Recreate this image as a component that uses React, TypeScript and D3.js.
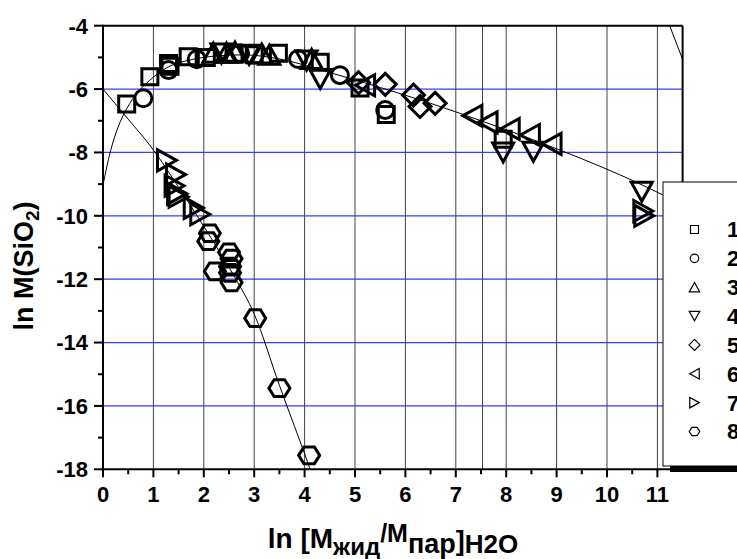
import React from 'react';
import * as d3 from 'd3';

// Series 1..8 (open symbols): x = ln[M_liq/M_vap]H2O, y = ln M(SiO2)
const s1X = [0.47, 0.93, 1.3, 1.33, 1.69, 2.05, 2.6, 3.0, 3.48, 4.31, 5.1, 5.62, 7.94];
const s1Y = [-6.47, -5.61, -5.19, -5.28, -4.98, -5.0, -4.9, -4.92, -4.87, -5.15, -5.97, -6.8, -7.58];
const s2X = [0.8, 1.3, 1.86, 2.72, 3.87, 4.7, 5.6];
const s2Y = [-6.29, -5.4, -5.06, -4.87, -5.05, -5.56, -6.66];
const s3X = [2.19, 2.45, 2.62, 3.15, 3.3, 4.14];
const s3Y = [-4.85, -4.85, -4.82, -4.88, -4.92, -5.05];
const s4X = [2.35, 2.9, 4.04, 4.31, 7.94, 8.54, 10.69];
const s4Y = [-4.88, -4.92, -5.1, -5.68, -8.0, -7.98, -9.24];
const s5X = [5.07, 5.6, 6.16, 6.29, 6.59];
const s5Y = [-5.8, -5.85, -6.19, -6.55, -6.45];
const s6X = [5.2, 7.33, 7.63, 8.07, 8.47, 8.9];
const s6Y = [-5.88, -6.84, -7.05, -7.26, -7.45, -7.73];
const s7X = [1.27, 1.45, 1.42, 1.47, 1.5, 1.8, 1.93, 10.72, 10.74];
const s7Y = [-8.25, -8.7, -9.05, -9.3, -9.4, -9.75, -9.95, -9.85, -10.0];
const s8X = [2.12, 2.09, 2.22, 2.5, 2.55, 2.52, 2.52, 2.55, 3.02, 3.5, 4.09];
const s8Y = [-10.55, -10.8, -11.75, -11.15, -11.35, -11.6, -11.8, -12.1, -13.23, -15.44, -17.56];

const seriesLabels = ['1', '2', '3', '4', '5', '6', '7', '8'];
const seriesShapes = ['square', 'circle', 'up', 'down', 'diamond', 'left', 'right', 'hexagon'];

// Fitted curves
const upperFitX = [0, 0.15, 0.3, 0.47, 0.7, 0.93, 1.26, 1.73, 2.3, 2.8, 3.5, 4.5, 5.5, 6.5, 7.5, 8.5, 9.5, 10.5, 11.12, 11.5];
const upperFitY = [-9.03, -7.95, -7.2, -6.62, -6.08, -5.72, -5.33, -5.08, -4.95, -4.92, -5.05, -5.48, -5.95, -6.45, -7.0, -7.58, -8.2, -8.88, -9.35, -9.65];
const lowerFitX = [0, 0.5, 1.0, 1.5, 1.92, 2.26, 2.6, 3.0, 3.5, 4.1, 4.2];
const lowerFitY = [-6, -6.95, -7.92, -9.1, -10.13, -11.0, -11.9, -13.1, -15.35, -17.95, -18.4];
const cornerFitX = [11.2, 11.55];
const cornerFitY = [-3.82, -5.27];

// Axis ticks
const xTicks = [0, 1, 2, 3, 4, 5, 6, 7, 8, 9, 10, 11];
const xMinorTicks = [0.5, 1.5, 2.5, 3.5, 4.5, 5.5, 6.5, 7.5, 8.5, 9.5, 10.5];
const yTicks = [-4, -6, -8, -10, -12, -14, -16, -18];
const yMinorTicks = [-5, -7, -9, -11, -13, -15, -17];
const xGrid = [1, 2, 3, 4, 5, 6, 7, 7.53, 8, 9, 10, 11];
const yGrid = [-6, -8, -10, -12, -14, -16];

const W = 737;
const H = 559;
const left = 103;
const right = 682.6;
const top = 25.7;
const bottom = 469.3;

const FONT = 'Arial, "Liberation Sans", Helvetica, sans-serif';

function markerPath(shape: string, k: number): string {
  const w = 10.5 * k;
  const h = 9.5 * k;
  switch (shape) {
    case 'square': {
      const s = 8 * k;
      return `M${-s},${-s}H${s}V${s}H${-s}Z`;
    }
    case 'up':
      return `M0,${-h}L${w},${h}L${-w},${h}Z`;
    case 'down':
      return `M0,${h}L${w},${-h}L${-w},${-h}Z`;
    case 'left':
      return `M${-h},0L${h},${-w}L${h},${w}Z`;
    case 'right':
      return `M${h},0L${-h},${-w}L${-h},${w}Z`;
    case 'diamond': {
      const d = 11 * k;
      return `M0,${-d}L${d},0L0,${d}L${-d},0Z`;
    }
    case 'hexagon': {
      const r = 10.5 * k;
      const pts = d3.range(6).map((i) => {
        const a = (Math.PI / 3) * i;
        return [r * Math.cos(a), r * Math.sin(a) * 0.92];
      });
      return 'M' + pts.map((p) => p.join(',')).join('L') + 'Z';
    }
    default:
      return '';
  }
}

function Marker({ shape, x, y, k, sw }: { shape: string; x: number; y: number; k: number; sw: number }) {
  if (shape === 'circle') {
    return <circle cx={x} cy={y} r={8.5 * k} fill="none" stroke="#000" strokeWidth={sw} />;
  }
  return (
    <path d={markerPath(shape, k)} transform={`translate(${x},${y})`} fill="none" stroke="#000" strokeWidth={sw} strokeLinejoin="miter" />
  );
}

export default function App() {
  const x = d3.scaleLinear().domain([0, 11.5]).range([left, right]);
  const y = d3.scaleLinear().domain([-18, -4]).range([bottom, top]);

  const series = [
    [s1X, s1Y], [s2X, s2Y], [s3X, s3Y], [s4X, s4Y],
    [s5X, s5Y], [s6X, s6Y], [s7X, s7Y], [s8X, s8Y],
  ];

  const line = d3
    .line<[number, number]>()
    .x((d) => x(d[0]))
    .y((d) => y(d[1]))
    .curve(d3.curveMonotoneX);
  const straight = d3
    .line<[number, number]>()
    .x((d) => x(d[0]))
    .y((d) => y(d[1]));

  const zip = (a: number[], b: number[]) => a.map((v, i) => [v, b[i]] as [number, number]);

  const legendX = 663;
  const legendY = 182;
  const legendH = 284;
  const rowY = d3.scaleLinear().domain([0, 7]).range([229.5, 431.5]);

  return (
    <svg width={W} height={H} style={{ position: 'absolute', left: 0, top: 0, background: '#fff' }} fontFamily={FONT}>
      <defs>
        <clipPath id="plot-clip">
          <rect x={left} y={top} width={right - left} height={bottom - top} />
        </clipPath>
      </defs>
      <rect x={0} y={0} width={W} height={H} fill="#fff" />

      {/* grid */}
      {yGrid.map((v) => (
        <line key={'yg' + v} x1={left} x2={right} y1={y(v)} y2={y(v)} stroke="#3a3aff" strokeWidth={1.2} />
      ))}
      {xGrid.map((v) => (
        <line key={'xg' + v} x1={x(v)} x2={x(v)} y1={top} y2={bottom} stroke="#444" strokeWidth={1} />
      ))}

      {/* fitted curves */}
      <g clipPath="url(#plot-clip)" fill="none" stroke="#000" strokeWidth={1}>
        <path d={line(zip(upperFitX, upperFitY)) || ''} />
        <path d={line(zip(lowerFitX, lowerFitY)) || ''} />
        <path d={straight(zip(cornerFitX, cornerFitY)) || ''} />
      </g>

      {/* data points */}
      {series.map(([xs, ys], si) => (
        <g key={'s' + si}>
          {xs.map((xv, i) => (
            <Marker key={i} shape={seriesShapes[si]} x={x(xv)} y={y(ys[i])} k={1} sw={3} />
          ))}
        </g>
      ))}

      {/* frame */}
      <line x1={left} x2={right} y1={top} y2={top} stroke="#000" strokeWidth={2} />
      <line x1={right} x2={right} y1={top} y2={bottom} stroke="#000" strokeWidth={2} />
      <line x1={left} x2={left} y1={top - 1} y2={bottom + 1} stroke="#000" strokeWidth={2} />
      <line x1={left - 1} x2={right} y1={bottom} y2={bottom} stroke="#000" strokeWidth={2} />

      {/* y axis ticks */}
      {yTicks.map((v) => (
        <g key={'yt' + v}>
          <line x1={left - 9} x2={left} y1={y(v)} y2={y(v)} stroke="#000" strokeWidth={2} />
          <text x={88} y={y(v)} dy="0.36em" textAnchor="end" fontSize={22} fontWeight="bold">
            {v}
          </text>
        </g>
      ))}
      {yMinorTicks.map((v) => (
        <line key={'ym' + v} x1={left - 5} x2={left} y1={y(v)} y2={y(v)} stroke="#000" strokeWidth={2} />
      ))}

      {/* x axis ticks */}
      {xTicks.map((v) => (
        <g key={'xt' + v}>
          <line x1={x(v)} x2={x(v)} y1={bottom} y2={bottom + 8} stroke="#000" strokeWidth={2} />
          <text x={x(v)} y={502} textAnchor="middle" fontSize={22} fontWeight="bold">
            {v}
          </text>
        </g>
      ))}
      {xMinorTicks.map((v) => (
        <line key={'xm' + v} x1={x(v)} x2={x(v)} y1={bottom} y2={bottom + 5} stroke="#000" strokeWidth={2} />
      ))}

      {/* axis titles */}
      <text transform="translate(33,266) rotate(-90)" textAnchor="middle" fontSize={27} fontWeight="bold">
        ln M(SiO<tspan dy={6} fontSize={19}>2</tspan>
        <tspan dy={-6}>)</tspan>
      </text>
      <text x={393} y={548} textAnchor="middle" fontSize={28} fontWeight="bold">
        ln [M<tspan dy={7} fontSize={24}>жид</tspan>
        <tspan dy={-13} fontSize={25}>/M</tspan>
        <tspan dy={11} fontSize={27}>пар</tspan>
        <tspan dy={-3} fontSize={27}>]</tspan>
        <tspan dy={3} fontSize={26}>H2O</tspan>
      </text>

      {/* legend */}
      <rect x={legendX + 7} y={legendY + legendH} width={W} height={6} fill="#000" />
      <rect x={legendX} y={legendY} width={W} height={legendH} fill="#fff" stroke="#000" strokeWidth={1} />
      {seriesLabels.map((lab, i) => (
        <g key={'lg' + i}>
          <Marker shape={seriesShapes[i]} x={694.5} y={rowY(i)} k={0.5} sw={1.2} />
          <text x={727} y={rowY(i)} dy="0.36em" fontSize={22} fontWeight="bold">
            {lab}
          </text>
        </g>
      ))}
    </svg>
  );
}
